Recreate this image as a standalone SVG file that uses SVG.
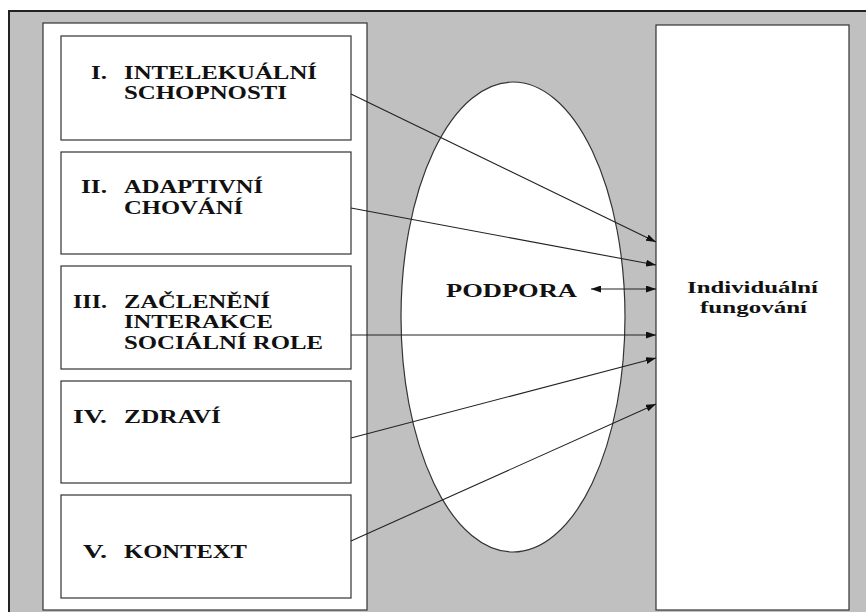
<svg xmlns="http://www.w3.org/2000/svg" width="866" height="612" viewBox="0 0 866 612">
<style>
.box{fill:#fff;stroke:#333;stroke-width:1.2}
.t{font-family:"Liberation Serif","Times New Roman",serif;font-weight:bold;font-size:18.5px;fill:#111}
.s{font-size:16.5px}
.c{stroke:#222;stroke-width:1.1;fill:none;marker-end:url(#ah)}
</style>
<defs>
<marker id="ah" viewBox="0 0 10 7" refX="10" refY="3.5" markerWidth="10" markerHeight="7" markerUnits="userSpaceOnUse" orient="auto-start-reverse">
<path d="M0,0 L10,3.5 L0,7 Z" fill="#111"/>
</marker>
</defs>
<rect x="0" y="0" width="866" height="612" fill="#fff"/>
<rect x="9" y="11" width="880" height="620" fill="#c0c0c0" stroke="#222" stroke-width="2"/>
<rect id="leftpanel" x="43" y="23" width="324" height="587" class="box"/>
<g id="ellipse"><ellipse cx="513" cy="317" rx="112" ry="235" class="box"/></g>
<g id="n1"><rect x="61" y="36" width="290" height="104" class="box"/>
<text class="t" x="91" y="79" textLength="16" lengthAdjust="spacingAndGlyphs">I.</text>
<text class="t" x="124" y="79" textLength="193" lengthAdjust="spacingAndGlyphs">INTELEKUÁLNÍ</text>
<text class="t" x="124" y="99" textLength="163" lengthAdjust="spacingAndGlyphs">SCHOPNOSTI</text></g>
<g id="n2"><rect x="61" y="152" width="290" height="102" class="box"/>
<text class="t" x="81" y="193" textLength="26" lengthAdjust="spacingAndGlyphs">II.</text>
<text class="t" x="124" y="193" textLength="139" lengthAdjust="spacingAndGlyphs">ADAPTIVNÍ</text>
<text class="t" x="124" y="214" textLength="119" lengthAdjust="spacingAndGlyphs">CHOVÁNÍ</text></g>
<g id="n3"><rect x="61" y="266" width="290" height="103" class="box"/>
<text class="t" x="73" y="308" textLength="34" lengthAdjust="spacingAndGlyphs">III.</text>
<text class="t" x="124" y="308" textLength="146" lengthAdjust="spacingAndGlyphs">ZAČLENĚNÍ</text>
<text class="t" x="124" y="328" textLength="149" lengthAdjust="spacingAndGlyphs">INTERAKCE</text>
<text class="t" x="124" y="349" textLength="199" lengthAdjust="spacingAndGlyphs">SOCIÁLNÍ ROLE</text></g>
<g id="n4"><rect x="61" y="381" width="290" height="102" class="box"/>
<text class="t" x="73" y="423" textLength="34" lengthAdjust="spacingAndGlyphs">IV.</text>
<text class="t" x="124" y="423" textLength="97" lengthAdjust="spacingAndGlyphs">ZDRAVÍ</text></g>
<g id="n5"><rect x="61" y="495" width="290" height="103" class="box"/>
<text class="t" x="83" y="558" textLength="24" lengthAdjust="spacingAndGlyphs">V.</text>
<text class="t" x="124" y="558" textLength="123" lengthAdjust="spacingAndGlyphs">KONTEXT</text></g>
<g id="podpora"><text class="t" x="446" y="297" textLength="131" lengthAdjust="spacingAndGlyphs">PODPORA</text></g>
<g id="ind"><rect x="656" y="25" width="193" height="585" class="box"/>
<text class="t s" x="687" y="293" textLength="131" lengthAdjust="spacingAndGlyphs">Individuální</text>
<text class="t s" x="700" y="313" textLength="107" lengthAdjust="spacingAndGlyphs">fungování</text></g>
<g id="connectors">
<line class="c" x1="351" y1="94" x2="656" y2="242"/>
<line class="c" x1="351" y1="208" x2="656" y2="265"/>
<line class="c" x1="591" y1="289" x2="656" y2="289" marker-start="url(#ah)"/>
<line class="c" x1="351" y1="335" x2="656" y2="335"/>
<line class="c" x1="351" y1="438" x2="656" y2="358"/>
<line class="c" x1="351" y1="541" x2="656" y2="404"/>
</g>
</svg>
